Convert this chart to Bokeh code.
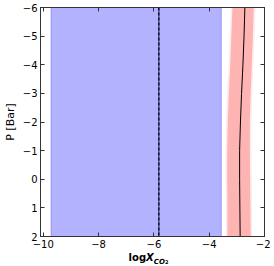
import numpy as np
from bokeh.plotting import figure
from bokeh.models import Range1d, FixedTicker, LinearAxis, Div, CustomJSTickFormatter
from bokeh.layouts import column
from bokeh.embed import file_html
from bokeh.resources import INLINE

# data
pressure = [-6, -5, -4, -3, -2, -1, 0, 1, 2]
red_center = [-2.71, -2.74, -2.78, -2.83, -2.87, -2.90, -2.90, -2.89, -2.88]
red_low = [-3.16, -3.20, -3.24, -3.29, -3.33, -3.35, -3.35, -3.34, -3.34]
red_high = [-2.39, -2.42, -2.46, -2.50, -2.53, -2.53, -2.52, -2.51, -2.50]
red_outer = 0.06
blue_low = [-9.72]
blue_high = [-3.56]
blue_line = [-5.82]
p_range = [-6, 2]
x_ticks = [-10, -8, -6, -4, -2]
y_ticks = [-6, -5, -4, -3, -2, -1, 0, 1, 2]

FONT = "DejaVu Sans"

p = figure(width=270, height=252, output_backend="svg", toolbar_location=None,
           x_range=Range1d(-10.1, -2), y_range=Range1d(2, -6),
           min_border_left=33, min_border_right=6, min_border_top=7, min_border_bottom=16,
           margin=0)
p.xgrid.visible = False
p.ygrid.visible = False
p.outline_line_color = "#333333"
p.background_fill_color = "white"

# blue band
p.quad(left=blue_low, right=blue_high, bottom=[p_range[1]], top=[p_range[0]],
       fill_color="blue", fill_alpha=0.3, line_color="blue", line_alpha=0.25, line_width=1)
# blue dashed line
p.line(x=[blue_line[0], blue_line[0]], y=p_range, line_color="#3c3c8c", line_width=1.2)
p.line(x=[blue_line[0], blue_line[0]], y=p_range, line_color="black", line_width=1.2,
       line_dash="3 2")

# red band
rl = np.array(red_low)
rh = np.array(red_high)
p.harea(x1=list(rl - red_outer), x2=list(rh + red_outer), y=pressure,
        fill_color="red", fill_alpha=0.08)
p.harea(x1=red_low, x2=red_high, y=pressure, fill_color="red", fill_alpha=0.23)
p.line(x=red_center, y=pressure, line_color="black", line_width=1)

# axes styling
def style_axis(ax, labels=True):
    ax.major_tick_in = 4
    ax.major_tick_out = 0
    ax.minor_tick_in = 0
    ax.minor_tick_out = 0
    ax.axis_line_color = "#333333"
    ax.major_tick_line_color = "#333333"
    ax.major_label_text_font = FONT
    ax.major_label_text_font_size = "10px"
    ax.major_label_text_color = "black"
    ax.major_label_standoff = 3
    if not labels:
        ax.formatter = CustomJSTickFormatter(code="return ''")
        ax.major_label_standoff = 0

p.xaxis.ticker = FixedTicker(ticks=x_ticks)
p.yaxis.ticker = FixedTicker(ticks=y_ticks)
for ax in p.xaxis + p.yaxis:
    style_axis(ax)

p.yaxis.axis_label = "P [Bar]"
p.yaxis.axis_label_text_font = FONT
p.yaxis.axis_label_text_font_size = "11px"
p.yaxis.axis_label_text_font_style = "normal"
p.yaxis.axis_label_text_color = "black"
p.yaxis.axis_label_standoff = 3

top = LinearAxis(ticker=FixedTicker(ticks=x_ticks))
style_axis(top, labels=False)
p.add_layout(top, "above")
right = LinearAxis(ticker=FixedTicker(ticks=y_ticks))
style_axis(right, labels=False)
p.add_layout(right, "right")

xlabel = Div(
    text="<b>log<i>X</i><sub style='font-size:7px;vertical-align:-3px'><i>CO</i>"
         "<span style='font-size:5px'>2</span></sub></b>",
    width=270, height=14, margin=0,
    styles={"padding-left": "33px", "width": "264px", "text-align": "center",
            "font-family": FONT, "font-size": "10px", "line-height": "12px",
            "color": "black"})

open("out.html", "w").write(file_html(column(p, xlabel, spacing=0), INLINE))
